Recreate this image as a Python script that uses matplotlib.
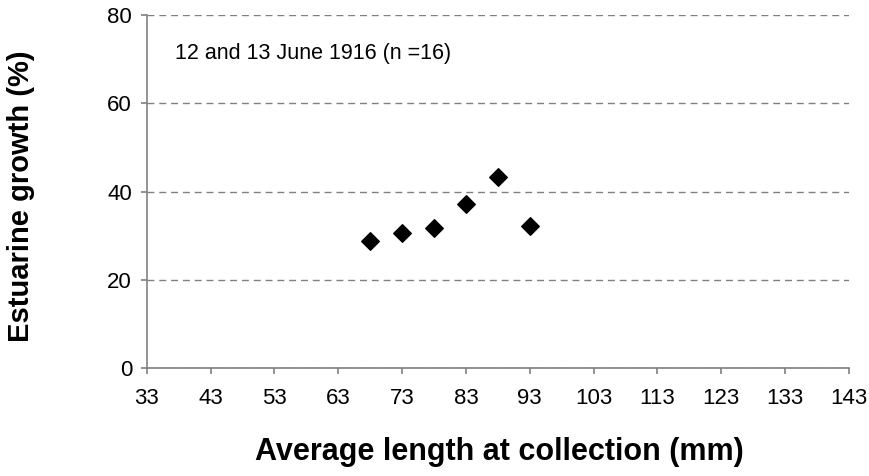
import matplotlib.pyplot as plt

# Data
lengths = [68, 73, 78, 83, 88, 93]
growth = [28.8, 30.7, 31.8, 37.2, 43.4, 32.2]
x_ticks = [33, 43, 53, 63, 73, 83, 93, 103, 113, 123, 133, 143]
y_ticks = [0, 20, 40, 60, 80]

plt.rcParams['font.family'] = ['Liberation Sans', 'DejaVu Sans']

fig = plt.figure(figsize=(8.7, 4.76), dpi=100)
ax = fig.add_axes([0.1686, 0.2263, 0.8073, 0.7422])

ax.scatter(lengths, growth, marker='D', s=80, color='black', zorder=3)

ax.set_xlim(33, 143)
ax.set_ylim(0, 80)
ax.set_xticks(x_ticks)
ax.set_yticks(y_ticks)

# dashed horizontal grid
ax.yaxis.grid(True, linestyle=(0, (5, 3.5)), color='#808080', linewidth=1)
ax.set_axisbelow(True)

for side in ['top', 'right']:
    ax.spines[side].set_visible(False)
for side in ['left', 'bottom']:
    ax.spines[side].set_color('#808080')
    ax.spines[side].set_linewidth(1.2)

ax.tick_params(axis='both', labelsize=16, length=4.5, color='#808080', width=1.2)
ax.tick_params(axis='x', pad=10)
ax.tick_params(axis='y', pad=6)

ax.text(37.4, 71.3, '12 and 13 June 1916 (n =16)', fontsize=15.5,
        ha='left', va='center')

ax.set_xlabel('Average length at collection (mm)', fontsize=22, fontweight='bold')
ax.set_ylabel('Estuarine growth (%)', fontsize=21, fontweight='bold')
ax.xaxis.label.set_va('center')
ax.yaxis.label.set_va('center')
ax.xaxis.set_label_coords(0.5015, (368.3 - 452) / 353.3)
ax.yaxis.set_label_coords((21.5 - 146.7) / 702.3, 0.486)

fig.savefig('out.png', dpi=100)
